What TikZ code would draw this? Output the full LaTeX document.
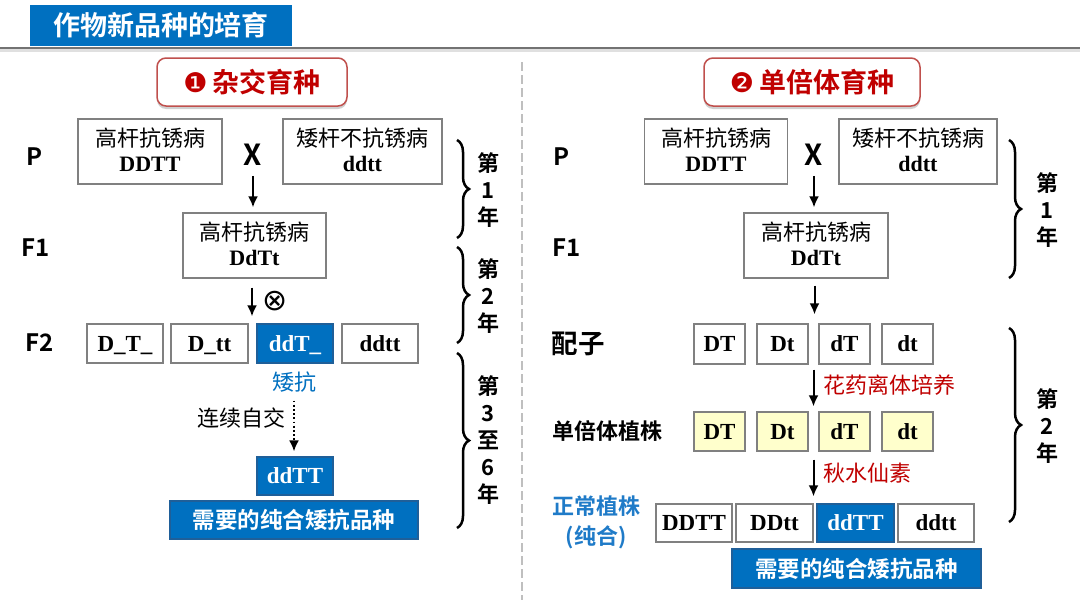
\documentclass[tikz,border=0pt]{standalone}
\usepackage{fontspec}
\setmainfont{Liberation Serif}
\newfontfamily\cjk{Noto Sans CJK SC}[BoldFont={Noto Sans CJK SC Bold}]
\newfontfamily\dvs{DejaVu Sans}
\usetikzlibrary{arrows.meta,decorations.pathreplacing,shadows,calc}
\definecolor{blu}{HTML}{0070C0}
\definecolor{blud}{HTML}{1F5F99}
\definecolor{dred}{HTML}{C00000}
\definecolor{hred}{HTML}{C0504D}
\definecolor{bord}{HTML}{808080}
\definecolor{pyel}{HTML}{FFFFCC}
\definecolor{lblu}{HTML}{1F7BC8}
\newcommand\lowpad{\rule[-4pt]{0pt}{4pt}}
\begin{document}
\begin{tikzpicture}[x=1pt,y=-1pt,
 box/.style={draw=bord, line width=1.3pt, fill=white, inner sep=0pt, align=center},
 wbox/.style={box, fill=blu, draw=blud, text=white},
 ybox/.style={box, fill=pyel},
 two/.style={font=\fontsize{22}{25}\selectfont, minimum height=65pt},
 gt/.style={font=\fontsize{23}{23}\selectfont\bfseries, text height=15.5pt, text depth=0pt},
 lab/.style={font=\cjk\fontsize{24}{24}\selectfont\bfseries, inner sep=0pt},
 arr/.style={line width=2pt, -{Latex[length=11pt,width=10pt]}},
 darr/.style={line width=1.8pt, dash pattern=on 1.8pt off 2.4pt, -{Latex[length=11pt,width=10pt]}},
 yr/.style={font=\cjk\fontsize{22}{27}\selectfont\bfseries, align=center, inner sep=0pt},
 brc/.style={decorate, decoration={brace, amplitude=12pt}, line width=2.5pt},
 banner/.style={fill=blu, draw=blud, line width=1.3pt, text=white, font=\cjk\fontsize{22.5}{22.5}\selectfont\bfseries, inner sep=0pt, minimum height=38pt},
 hdr/.style={draw=hred, line width=1.5pt, fill=white, rounded corners=9pt, inner sep=0pt, minimum height=48pt, drop shadow={shadow xshift=0pt, shadow yshift=-3pt, opacity=0.3, fill=black!60}},
 note/.style={font=\cjk\fontsize{22}{22}\selectfont, inner sep=0pt},
]
\useasboundingbox (0,0) rectangle (1080,608);
\fill[white] (0,0) rectangle (1080,608);

% title bar
\draw[black!12, line width=3pt] (0,50.5) -- (1080,50.5);
\draw[black!55, line width=2pt] (0,47.5) -- (1080,47.5);
\node[fill=blu, minimum width=262pt, minimum height=41pt, inner sep=0pt, text=white,
      font=\cjk\fontsize{27}{27}\selectfont\bfseries] (title) at (161,25.5) {作物新品种的培育};

% divider
\draw[black!25, line width=2.5pt, dash pattern=on 9pt off 4pt] (522,62) -- (522,600);

% headers
\node[hdr, minimum width=190pt] (h1) at (252,82)
  {{\dvs\fontsize{27}{27}\selectfont\color{dred}❶}\hspace{5pt}{\cjk\fontsize{27}{27}\selectfont\bfseries\color{dred}杂交育种}};
\node[hdr, minimum width=216pt] (h2) at (812,82)
  {{\dvs\fontsize{27}{27}\selectfont\color{dred}❷}\hspace{5pt}{\cjk\fontsize{27}{27}\selectfont\bfseries\color{dred}单倍体育种}};

% ===== left: hybrid breeding =====
\node[lab] (LP) at (35,157) {P};
\node[lab] (LF1l) at (36,248) {F1};
\node[lab] (LF2l) at (40,343) {F2};

\node[box, two, minimum width=144pt] (L1) at (150,151.5) {{\cjk 高杆抗锈病}\\{\bfseries DDTT}\lowpad};
\node[lab, font=\cjk\fontsize{29}{29}\selectfont\bfseries] (LX) at (253,155) {X};
\node[box, two, minimum width=159pt] (L2) at (362.5,151.5) {{\cjk 矮杆不抗锈病}\\{\bfseries ddtt}\lowpad};
\node[box, two, minimum width=143pt] (LF1) at (254.5,245.5) {{\cjk 高杆抗锈病}\\{\bfseries DdTt}\lowpad};

\draw[arr] ($(LX.south)+(0,10)$) -- ($(LX.south |- LF1.north)+(0,-5)$);

\node[box, gt, minimum width=76pt, minimum height=39pt] (c1) at (125,343.5) {D\_T\_};
\node[box, gt, minimum width=77pt, minimum height=39pt] (c2) at (209.5,343.5) {D\_tt};
\node[wbox, gt, minimum width=76pt, minimum height=39pt] (c3) at (295,343.5) {ddT\_};
\node[box, gt, minimum width=76pt, minimum height=39pt] (c4) at (380,343.5) {ddtt};

\draw[arr] ($(LF1.south)+(-2.5,9)$) -- ($(LF1.south |- c3.north)+(-2.5,-7)$);
\node[inner sep=0pt, font=\dvs\fontsize{30}{30}\selectfont] (self) at (275,301) {⊗};

\node[note, text=blu] (ak) at (294,382) {矮抗};
\node[note] (lx) at (241,418) {连续自交};
\node[wbox, gt, minimum width=76pt, minimum height=38pt] (dd) at (295,476) {ddTT};
\draw[darr] ($(ak.south)+(0,8)$) -- ($(ak.south |- dd.north)+(0,-5)$);
\node[banner, minimum width=248pt] (bL) at (294,520) {需要的纯合矮抗品种};

% braces left
\draw[brc] (457,140) -- (457,238);
\node[yr] (y1) at (488,190) {第\\1\\年};
\draw[brc] (457,247) -- (457,343);
\node[yr] (y2) at (488,296) {第\\2\\年};
\draw[brc] (457,353) -- (457,528);
\node[yr] (y3) at (488,440) {第\\3\\至\\6\\年};

% ===== right: haploid breeding =====
\node[lab] (RP) at (561,157) {P};
\node[lab] (RF1l) at (567,248) {F1};
\node[lab, font=\cjk\fontsize{26.5}{26.5}\selectfont\bfseries] (gam) at (578,344) {配子};
\node[lab, font=\cjk\fontsize{22}{22}\selectfont\bfseries] (hap) at (607.5,431) {单倍体植株};
\node[lab, font=\cjk\fontsize{22}{22}\selectfont\bfseries, text=lblu] (nor) at (596,506) {正常植株};
\node[lab, font=\cjk\fontsize{22}{22}\selectfont\bfseries, text=lblu] (nor2) at (596,537) {(纯合)};

\node[box, two, minimum width=143pt] (R1) at (716,151.5) {{\cjk 高杆抗锈病}\\{\bfseries DDTT}\lowpad};
\node[lab, font=\cjk\fontsize{29}{29}\selectfont\bfseries] (RX) at (814,155) {X};
\node[box, two, minimum width=158pt] (R2) at (918,151.5) {{\cjk 矮杆不抗锈病}\\{\bfseries ddtt}\lowpad};
\node[box, two, minimum width=144pt] (RF1) at (816,245.5) {{\cjk 高杆抗锈病}\\{\bfseries DdTt}\lowpad};
\draw[arr] ($(RX.south)+(0,10)$) -- ($(RX.south |- RF1.north)+(0,-5)$);

\node[box, gt, minimum width=51pt, minimum height=40pt] (g1) at (719.5,344) {DT};
\node[box, gt, minimum width=51pt, minimum height=40pt] (g2) at (782.5,344) {Dt};
\node[box, gt, minimum width=51pt, minimum height=40pt] (g3) at (844.5,344) {dT};
\node[box, gt, minimum width=51pt, minimum height=40pt] (g4) at (907.5,344) {dt};
\draw[arr] ($(RF1.south)+(-1.5,7)$) -- ($(RF1.south |- g2.north)+(-1.5,-9)$);

\node[ybox, gt, minimum width=51pt, minimum height=39pt] (k1) at (719.5,431.5) {DT};
\node[ybox, gt, minimum width=51pt, minimum height=39pt] (k2) at (782.5,431.5) {Dt};
\node[ybox, gt, minimum width=51pt, minimum height=39pt] (k3) at (844.5,431.5) {dT};
\node[ybox, gt, minimum width=51pt, minimum height=39pt] (k4) at (907.5,431.5) {dt};
\coordinate (gm) at ($(g2.south east)!0.5!(g3.south west)$);
\coordinate (km) at ($(k2.south east)!0.5!(k3.south west)$);
\draw[arr] ($(gm)+(0,5)$) -- ($(gm |- k2.north)+(0,-5)$);
\node[note, text=dred, anchor=west] (hy) at (823.5,385) {花药离体培养};

\node[box, gt, minimum width=76pt, minimum height=38pt] (n1) at (694,523) {DDTT};
\node[box, gt, minimum width=77pt, minimum height=38pt] (n2) at (774.5,523) {DDtt};
\node[wbox, gt, minimum width=77pt, minimum height=38pt] (n3) at (855.5,523) {ddTT};
\node[box, gt, minimum width=76pt, minimum height=38pt] (n4) at (936,523) {ddtt};
\draw[arr] ($(km)+(0,8)$) -- ($(km |- n2.north)+(0,-7)$);
\node[note, text=dred, anchor=west] (qs) at (823.5,473) {秋水仙素};

\node[banner, minimum width=249pt, minimum height=39pt] (bR) at (856.5,568.5) {需要的纯合矮抗品种};

% braces right
\draw[brc] (1009,140) -- (1009,278);
\node[yr] (y4) at (1047,210) {第\\1\\年};
\draw[brc] (1009,328) -- (1009,522);
\node[yr] (y5) at (1047,426) {第\\2\\年};
\end{tikzpicture}
\end{document}
